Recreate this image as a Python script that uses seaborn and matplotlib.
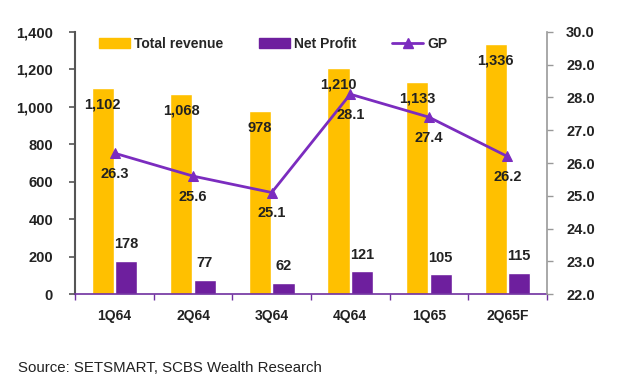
import numpy as np
import pandas as pd
import matplotlib
matplotlib.use('Agg')
import matplotlib.pyplot as plt
import seaborn as sns
from matplotlib.lines import Line2D
from matplotlib.patches import Patch

quarters = ['1Q64', '2Q64', '3Q64', '4Q64', '1Q65', '2Q65F']
total_revenue = [1102, 1068, 978, 1210, 1133, 1336]
net_profit = [178, 77, 62, 121, 105, 115]
gp = [26.3, 25.6, 25.1, 28.1, 27.4, 26.2]

yellow = '#FFC000'
purple_bar = '#6E1F9E'
purple_line = '#7B2CBF'

sns.set_theme(style='white')
plt.rcParams['font.family'] = ['Liberation Sans', 'DejaVu Sans']

df = pd.DataFrame({
    'quarter': quarters * 2,
    'value': total_revenue + net_profit,
    'series': ['Total revenue'] * 6 + ['Net Profit'] * 6,
})

fig = plt.figure(figsize=(6.27, 3.8), dpi=100)
ax = fig.add_axes([0.12, 0.226, 0.752, 0.69])

sns.barplot(data=df, x='quarter', y='value', hue='series', order=quarters,
            hue_order=['Total revenue', 'Net Profit'],
            palette=[yellow, purple_bar], width=0.6, gap=0.06,
            saturation=1, legend=False, ax=ax)

ax.set_ylim(0, 1400)
ax.set_xlim(-0.5, 5.5)
ax.set_yticks(range(0, 1401, 200))
ax.set_yticklabels([f'{v:,}' for v in range(0, 1401, 200)])
ax.set_xlabel('')
ax.set_ylabel('')

# value labels
for i, v in enumerate(total_revenue):
    ax.annotate(f'{v:,}', (i - 0.15, v), xytext=(0, -12), textcoords='offset points',
                ha='center', va='center', fontsize=10.5, fontweight='bold', color='#222222')
for i, v in enumerate(net_profit):
    ax.annotate(f'{v:,}', (i + 0.15, v), xytext=(0, 12), textcoords='offset points',
                ha='center', va='center', fontsize=10.5, fontweight='bold', color='#222222')

ax2 = ax.twinx()
sns.lineplot(x=np.arange(len(quarters)), y=gp, color=purple_line, marker='^',
             markersize=7, markeredgecolor=purple_line, linewidth=2, ax=ax2)
ax2.set_ylim(22, 30)
ax2.set_yticks(np.arange(22, 30.1, 1))
ax2.set_yticklabels([f'{v:.1f}' for v in np.arange(22, 30.1, 1)])
for i, v in enumerate(gp):
    ax2.annotate(f'{v:.1f}', (i, v), xytext=(0, -15), textcoords='offset points',
                 ha='center', va='center', fontsize=10.5, fontweight='bold', color='#222222')

# spines and ticks
for s in ['top', 'right']:
    ax.spines[s].set_visible(False)
for s in ['top', 'left', 'bottom']:
    ax2.spines[s].set_visible(False)
ax.spines['left'].set_color('#555555')
ax.spines['left'].set_linewidth(1.5)
ax.spines['bottom'].set_color('#7030A0')
ax.spines['bottom'].set_linewidth(1.2)
ax2.spines['right'].set_color('#999999')
ax2.spines['right'].set_linewidth(1.2)

ax.tick_params(axis='y', length=4, width=1.2, color='#555555', labelsize=10.5, pad=12,
               left=True, labelcolor='#222222')
ax2.tick_params(axis='y', length=4, width=1, color='#999999', labelsize=10.5, pad=10,
                right=True, labelcolor='#222222')
ax.set_xticks(np.arange(len(quarters)))
ax.set_xticklabels(quarters)
ax.set_xticks(np.arange(-0.5, len(quarters), 1), minor=True)
ax.tick_params(axis='x', which='major', length=0, labelsize=10, pad=11, labelcolor='#222222')
ax.tick_params(axis='x', which='minor', length=4, width=1, color='#7030A0', bottom=True)
for lab in ax.get_xticklabels() + ax.get_yticklabels() + ax2.get_yticklabels():
    lab.set_fontweight('bold')

handles = [Patch(color=yellow), Patch(color=purple_bar),
           Line2D([], [], color=purple_line, marker='^', markersize=7, linewidth=2)]
ax.legend(handles, ['Total revenue', 'Net Profit', 'GP'], ncol=3, frameon=False,
          loc='upper center', bbox_to_anchor=(0.42, 1.03), handlelength=2.2,
          handletextpad=0.3, columnspacing=2.6,
          prop={'weight': 'bold', 'size': 10})

fig.text(0.028, 0.02, 'Source: SETSMART, SCBS Wealth Research', fontsize=10.8, color='#222222')

fig.savefig('out.png', dpi=100)
